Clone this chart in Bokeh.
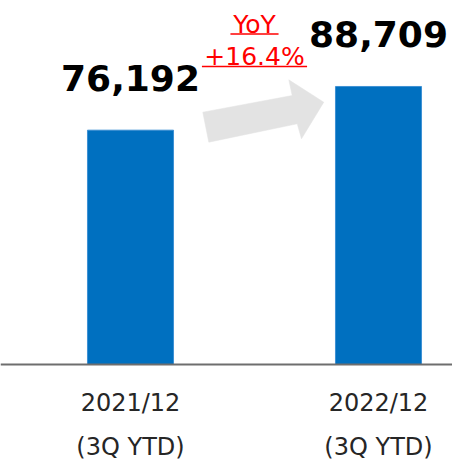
from bokeh.plotting import figure
from bokeh.models import Range1d, Span, ColumnDataSource
from bokeh.core.properties import value
from bokeh.embed import file_html
from bokeh.resources import INLINE

# ---- data ----
periods = ["2021/12", "2022/12"]
period_sub = ["(3Q YTD)", "(3Q YTD)"]
revenue = [76192, 88709]
value_labels = ["76,192", "88,709"]
yoy_lines = ["YoY", "+16.4%"]

AXIS_BASE = 9000  # value axis origin of the reference (truncated)

xs = list(range(len(periods)))
src = ColumnDataSource(dict(x=xs, top=revenue, lab=value_labels,
                            cat=periods, sub=period_sub))

p = figure(width=452, height=461, output_backend="svg", toolbar_location=None,
           x_range=Range1d(-0.5242, 1.2984), y_range=Range1d(-18810, 113358),
           min_border_left=0, min_border_right=0, min_border_top=0, min_border_bottom=0,
           x_axis_location=None, y_axis_location=None)
p.grid.visible = False
p.outline_line_color = None
p.background_fill_color = "white"

# arrow (growth indicator) between the bars
mid = (xs[0] + xs[1]) / 2
arrow_x = [0.2915, 0.6520, 0.6383, 0.7794, 0.6895, 0.6722, 0.3157]
arrow_y = [81334, 86122, 90623, 84201, 73708, 78008, 72733]
p.patch(arrow_x, arrow_y, fill_color="#E3E3E3", line_color="#E3E3E3", line_width=0.5)

# bars
p.vbar(x="x", top="top", bottom=AXIS_BASE, width=0.347, source=src,
       fill_color="#0070C0", line_color="#2E86D0", line_width=0.8)

# baseline
p.add_layout(Span(location=AXIS_BASE, dimension="width", line_color="#6E6E6E", line_width=2))

# value labels
p.text(x="x", y="top", text="lab", source=src, text_align="center",
       text_baseline="middle", y_offset=-52,
       text_font=value("DejaVu Sans"), text_font_style="bold",
       text_font_size="36px", text_color="black")

# category labels
p.text(x="x", y=AXIS_BASE, text="cat", source=src, text_align="center",
       text_baseline="middle", y_offset=39,
       text_font=value("DejaVu Sans"), text_font_size="24px", text_color="#262626")
p.text(x="x", y=AXIS_BASE, text="sub", source=src, text_align="center",
       text_baseline="middle", y_offset=83,
       text_font=value("DejaVu Sans"), text_font_size="24px", text_color="#262626")

# YoY annotation
p.text(x=[mid, mid], y=[106620, 97446], text=yoy_lines, text_align="center",
       text_baseline="middle", text_font=value("DejaVu Sans"),
       text_font_size="25px", text_color="#FF0000")
half_w = [0.097, 0.212]
ul_y = [103753, 94436]
p.segment(x0=[mid - h for h in half_w], x1=[mid + h for h in half_w],
          y0=ul_y, y1=ul_y, line_color="#FF0000", line_width=1.5)

open("out.html", "w").write(file_html(p, INLINE))
